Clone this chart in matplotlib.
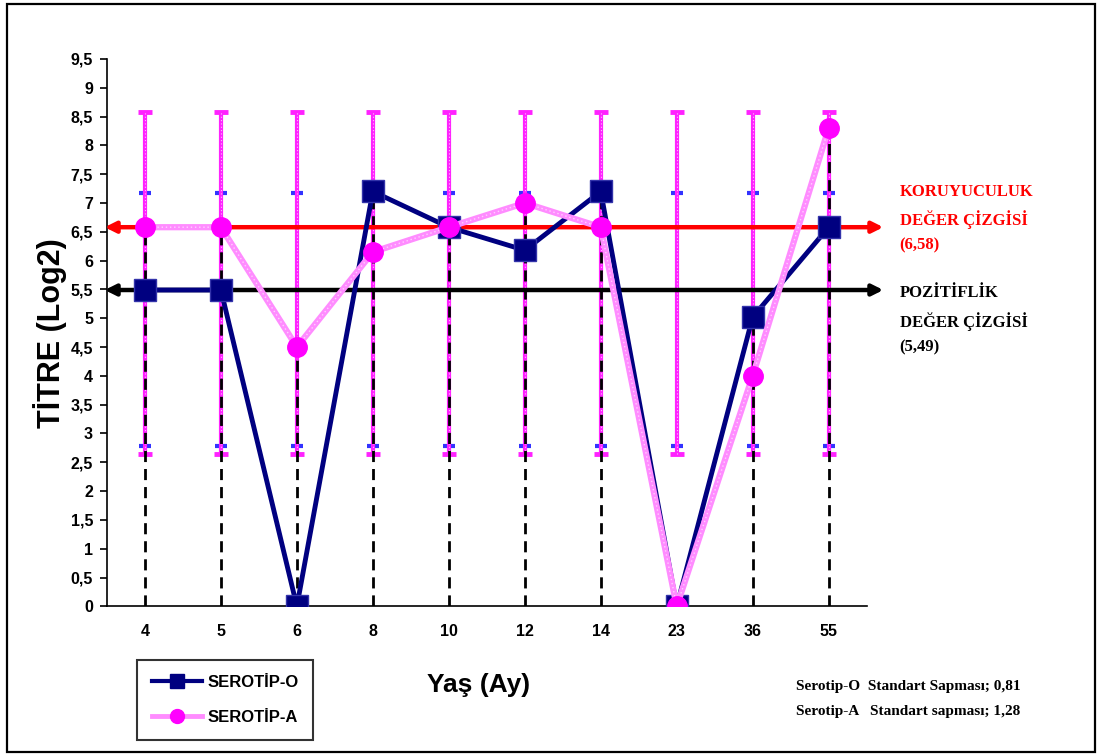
import numpy as np
import matplotlib
matplotlib.use("Agg")
import matplotlib.pyplot as plt
from matplotlib.patches import Rectangle
from matplotlib.lines import Line2D

# yaş grupları (ay) ve titre ortalamaları
ages = ["4", "5", "6", "8", "10", "12", "14", "23", "36", "55"]
serotip_o = [5.49, 5.49, 0, 7.2, 6.58, 6.18, 7.2, 0, 5.02, 6.58]
serotip_a = [6.58, 6.58, 4.5, 6.15, 6.58, 7.0, 6.58, 0, 4.0, 8.3]

# hata çubukları (alt, üst)
o_bar = (2.78, 7.18)
a_bar = (2.65, 8.58)

koruyuculuk = 6.58
pozitiflik = 5.49

yticks = np.arange(0, 10, 0.5)
ytick_labels = ["0", "0,5", "1", "1,5", "2", "2,5", "3", "3,5", "4", "4,5",
                "5", "5,5", "6", "6,5", "7", "7,5", "8", "8,5", "9", "9,5"]

navy = "#000080"
pink_line = "#ff8cff"
magenta = "#ff00ff"

sans = "Liberation Sans"
serif = "Liberation Serif"

fig = plt.figure(figsize=(10.97, 7.56), dpi=100)
ax = fig.add_axes([0.0975, 0.198, 0.6925, 0.724])

x = np.arange(len(ages))

# drop lines
tops = np.maximum(serotip_o, serotip_a)
ax.vlines(x, 0, tops, colors="black", linestyles=(0, (4, 2.5)), lw=2, zorder=3)

# error bars
o_c = (o_bar[0] + o_bar[1]) / 2
o_h = (o_bar[1] - o_bar[0]) / 2
a_c = (a_bar[0] + a_bar[1]) / 2
a_h = (a_bar[1] - a_bar[0]) / 2
ax.errorbar(x, [o_c] * len(x), yerr=o_h, fmt="none", ecolor="#3333ff",
            elinewidth=1.5, capsize=4, capthick=3, zorder=2)
ax.errorbar(x, [a_c] * len(x), yerr=a_h, fmt="none", ecolor="#ff22ff",
            elinewidth=3, capsize=5, capthick=3.5, zorder=2.5)
# dotted texture on the pink bars
ax.vlines(x, a_bar[0], a_bar[1], colors="white", linestyles=(0, (1, 2)),
          lw=0.8, alpha=0.7, zorder=2.6)

# reference lines with arrows
for val, col in [(koruyuculuk, "red"), (pozitiflik, "black")]:
    ax.annotate("", xy=(9.72, val), xytext=(-0.53, val), xycoords="data",
                arrowprops=dict(arrowstyle="<|-|>", color=col, lw=3.2,
                                mutation_scale=16, shrinkA=0, shrinkB=0),
                annotation_clip=False, zorder=4)

ax.plot(x, serotip_o, color=navy, lw=3.5, marker="s", ms=16,
        mfc=navy, mec="#3333aa", zorder=5)
ax.plot(x, serotip_a, color=pink_line, lw=4.5, zorder=6)
ax.plot(x, serotip_a, color="white", lw=1, ls=(0, (1, 2)), alpha=0.6, zorder=6.1)
ax.plot(x, serotip_a, ls="none", marker="o", ms=14, mfc=magenta, mec=magenta, zorder=6.2)

ax.set_xlim(-0.5, 9.5)
ax.set_ylim(0, 9.5)
ax.set_xticks(x)
ax.set_xticklabels(ages, fontfamily=sans, fontweight="bold", fontsize=11.5)
ax.set_yticks(yticks)
ax.set_yticklabels(ytick_labels, fontfamily=sans, fontweight="bold", fontsize=11.5)
ax.tick_params(axis="x", length=0, pad=13)
ax.tick_params(axis="y", length=5, width=1.2, direction="out", pad=5)
for s in ["top", "right"]:
    ax.spines[s].set_visible(False)
ax.spines["left"].set_linewidth(1.2)
ax.spines["bottom"].set_linewidth(1.2)

fig.text(0.046, 0.56, "TİTRE (Log2)", rotation=90, ha="center", va="center",
         fontfamily=sans, fontweight="bold", fontsize=22)
fig.text(0.436, 0.094, "Yaş (Ay)", ha="center", va="center",
         fontfamily=sans, fontweight="bold", fontsize=19)

# legend
handles = [Line2D([], [], color=navy, lw=3, marker="s", ms=10, mfc=navy),
           Line2D([], [], color=pink_line, lw=3.5, marker="o", ms=10, mfc=magenta, mec=magenta)]
leg = fig.legend(handles, ["SEROTİP-O", "SEROTİP-A"], loc="lower left",
                 bbox_to_anchor=(0.125, 0.021), borderaxespad=0, frameon=True,
                 fancybox=False, edgecolor="black", handlelength=3.0,
                 borderpad=0.9, labelspacing=1.2, handletextpad=0.3,
                 prop=dict(family=sans, weight="bold", size=12))
leg.get_frame().set_linewidth(1.5)

# annotations on the right
fig.text(0.820, 0.757, "KORUYUCULUK\nDEĞER ÇİZGİSİ\n(6,58)", color="red",
         ha="left", va="top", fontfamily=serif, fontweight="bold",
         fontsize=12, linespacing=1.7)
fig.text(0.820, 0.623, "POZİTİFLİK\nDEĞER ÇİZGİSİ\n(5,49)", color="black",
         ha="left", va="top", fontfamily=serif, fontweight="bold",
         fontsize=12, linespacing=1.7)
fig.text(0.726, 0.092, "Serotip-O  Standart Sapması; 0,81", ha="left", va="center",
         fontfamily=serif, fontweight="bold", fontsize=11)
fig.text(0.726, 0.059, "Serotip-A   Standart sapması; 1,28", ha="left", va="center",
         fontfamily=serif, fontweight="bold", fontsize=11)

# outer frame
fig.patches.append(Rectangle((0.0065, 0.005), 0.992, 0.99, transform=fig.transFigure,
                             fill=False, edgecolor="black", lw=1.6))

fig.savefig("out.png", dpi=100)
